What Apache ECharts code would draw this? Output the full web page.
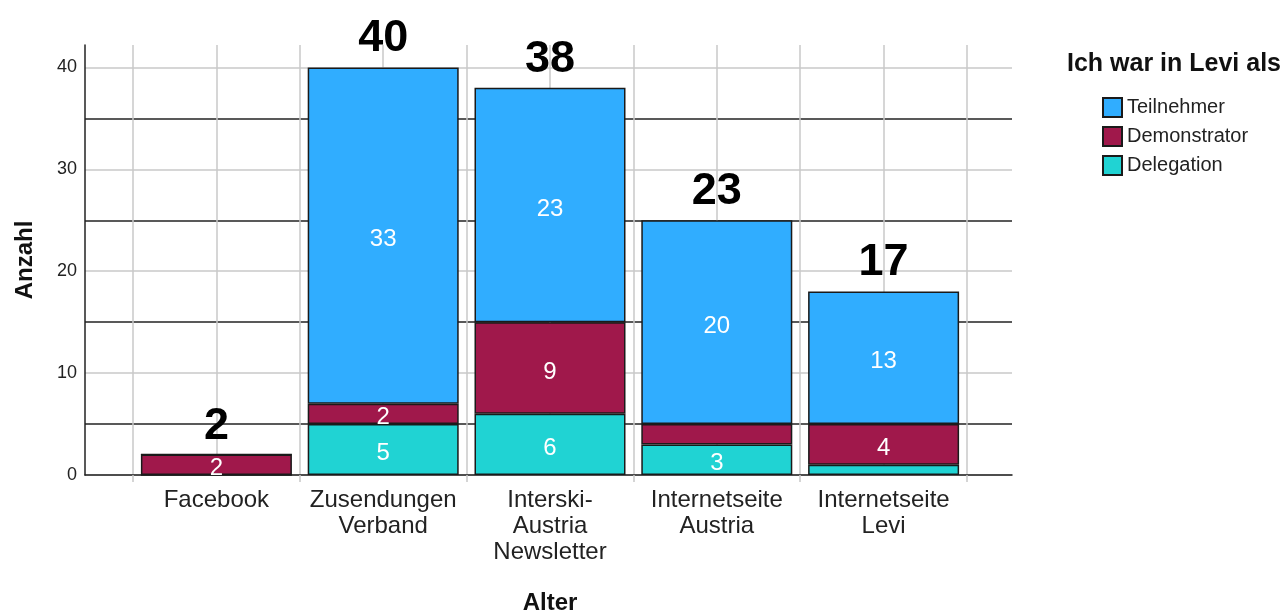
<!DOCTYPE html>
<html>
<head>
<meta charset="utf-8">
<script src="https://cdn.jsdelivr.net/npm/echarts@6/dist/echarts.min.js"></script>
<style>
html, body { margin: 0; padding: 0; background: #fff; }
#main { width: 1288px; height: 615px; }
</style>
</head>
<body>
<div id="main"></div>
<script>
var myChart = echarts.init(document.getElementById('main'));

var categories = ['Facebook', 'Zusendungen\nVerband', 'Interski-\nAustria\nNewsletter', 'Internetseite\nAustria', 'Internetseite\nLevi'];
var teilnehmer = [0, 33, 23, 20, 13];
var demonstrator = [2, 2, 9, 2, 4];
var delegation = [0, 5, 6, 3, 1];
// numbers written above the bars in the picture
var totalsText = [2, 40, 38, 23, 17];
// segments whose value is not printed
var noLabel = { Demonstrator: [3], Delegation: [4] };

var font = 'Liberation Sans, Arial, sans-serif';
var yMax = 42.2;

function items(name, values) {
    return values.map(function (v, i) {
        var hide = v === 0 || (noLabel[name] || []).indexOf(i) >= 0;
        return { value: v, label: { show: !hide } };
    });
}

function segment(name, values, color) {
    return {
        name: name,
        type: 'bar',
        stack: 'all',
        xAxisIndex: 1,
        yAxisIndex: 1,
        barWidth: 151,
        data: items(name, values),
        itemStyle: { color: color, borderColor: '#1a1a1a', borderWidth: 1.5 },
        label: {
            position: 'inside',
            offset: [0, 4],
            color: '#fff',
            fontSize: 24,
            fontFamily: font
        }
    };
}

option = {
    animation: false,
    title: {
        text: 'Ich war in Levi als',
        left: 1062,
        top: 47,
        textStyle: { fontSize: 25, fontWeight: 'bold', color: '#111', fontFamily: font }
    },
    legend: {
        data: ['Teilnehmer', 'Demonstrator', 'Delegation'],
        orient: 'vertical',
        left: 1097,
        top: 92,
        icon: 'rect',
        itemWidth: 19,
        itemHeight: 19,
        itemGap: 8,
        textStyle: { fontSize: 20, color: '#222', fontFamily: font }
    },
    grid: [
        { left: 85, right: 276, top: 45, bottom: 140, outerBoundsMode: 'none', containLabel: false },
        { left: 133, right: 321, top: 45, bottom: 140, outerBoundsMode: 'none', containLabel: false }
    ],
    xAxis: [
        {
            gridIndex: 0,
            type: 'value',
            min: 0,
            max: 1,
            axisLine: { show: true, lineStyle: { color: '#222', width: 1.5 } },
            axisTick: { show: false },
            axisLabel: { show: false },
            splitLine: { show: false }
        },
        {
            gridIndex: 1,
            type: 'category',
            data: categories,
            name: 'Alter',
            nameLocation: 'middle',
            nameGap: 116,
            nameTextStyle: { fontSize: 24, fontWeight: 'bold', color: '#111', fontFamily: font },
            axisLine: { show: false },
            axisTick: { show: true, length: 7, lineStyle: { color: '#c8c8c8', width: 1.5 } },
            axisLabel: { interval: 0, fontSize: 24, lineHeight: 26, color: '#222', margin: 12, fontFamily: font },
            splitLine: { show: false }
        },
        {
            gridIndex: 1,
            type: 'value',
            min: 0,
            max: categories.length * 2,
            interval: 1,
            axisLine: { show: false },
            axisTick: { show: false },
            axisLabel: { show: false },
            splitLine: { show: true, lineStyle: { color: '#c8c8c8', width: 1.5 } }
        }
    ],
    yAxis: [
        {
            gridIndex: 0,
            type: 'value',
            min: 0,
            max: yMax,
            interval: 5,
            name: 'Anzahl',
            nameLocation: 'middle',
            nameRotate: 90,
            nameGap: 48,
            nameTextStyle: { fontSize: 24, fontWeight: 'bold', color: '#111', fontFamily: font },
            axisLine: { show: true, lineStyle: { color: '#222', width: 1.5 } },
            axisTick: { show: false },
            axisLabel: {
                fontSize: 18,
                color: '#222',
                margin: 8,
                fontFamily: font,
                showMaxLabel: false,
                formatter: function (v) { return v % 10 === 0 ? v : ''; }
            },
            splitLine: {
                show: true,
                showMaxLine: false,
                lineStyle: { color: ['#c8c8c8', '#222'], width: 1.5 }
            }
        },
        {
            gridIndex: 1,
            type: 'value',
            min: 0,
            max: yMax,
            show: false
        }
    ],
    series: [
        segment('Delegation', delegation, '#20d3d3'),
        segment('Demonstrator', demonstrator, '#a0184b'),
        segment('Teilnehmer', teilnehmer, '#30adff'),
        {
            name: 'Summe',
            type: 'bar',
            stack: 'all',
            xAxisIndex: 1,
            yAxisIndex: 1,
            barWidth: 151,
            data: totalsText.map(function () { return 0; }),
            itemStyle: { color: 'transparent', borderWidth: 0 },
            label: {
                show: true,
                position: 'top',
                distance: 6,
                color: '#000',
                fontSize: 45,
                fontWeight: 'bold',
                fontFamily: font,
                formatter: function (p) { return totalsText[p.dataIndex]; }
            }
        }
    ]
};
myChart.setOption(option);
</script>
</body>
</html>
